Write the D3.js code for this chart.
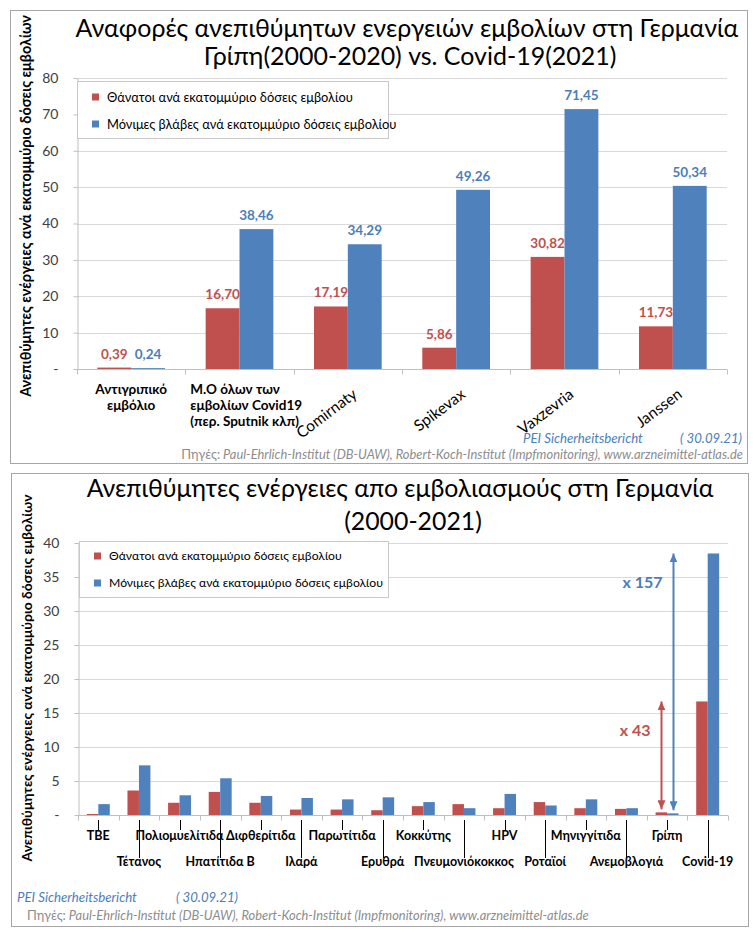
<!doctype html>
<html>
<head>
<meta charset="UTF-8">
<title>Ανεπιθύμητες ενέργειες εμβολίων</title>
<script src="https://cdn.jsdelivr.net/npm/d3@7"></script>
<style>
  body { margin: 0; background: #fff; }
  svg { display: block; }
</style>
</head>
<body>
<svg id="chart" width="755" height="946"></svg>
<script>
// ---- data ----
var seriesNames = ["Θάνατοι ανά εκατομμύριο δόσεις εμβολίου", "Μόνιμες βλάβες ανά εκατομμύριο δόσεις εμβολίου"];
var seriesColors = ["#c0504d", "#4f81bd"];
var labelColors = ["#c0504d", "#4a7ebb"];

var topCategories = [["Αντιγριπικό", "εμβόλιο"], ["M.O όλων των", "εμβολίων Covid19", "(περ. Sputnik κλπ)"],
                     ["Comirnaty"], ["Spikevax"], ["Vaxzevria"], ["Janssen"]];
var topDeaths   = [0.39, 16.70, 17.19, 5.86, 30.82, 11.73];
var topInjuries = [0.24, 38.46, 34.29, 49.26, 71.45, 50.34];
var topTicks    = [0, 10, 20, 30, 40, 50, 60, 70, 80];

var bottomCategories = ["TBE", "Τέτανος", "Πολιομυελίτιδα", "Ηπατίτιδα B", "Διφθερίτιδα", "Ιλαρά", "Παρωτίτιδα", "Ερυθρά",
                        "Κοκκύτης", "Πνευμονιόκοκκος", "HPV", "Ροταϊοί", "Μηνιγγίτιδα", "Ανεμοβλογιά", "Γρίπη", "Covid-19"];
var bottomDeaths   = [0.15, 3.6, 1.8, 3.4, 1.8, 0.8, 0.8, 0.7, 1.3, 1.6, 1.0, 1.9, 1.0, 0.9, 0.39, 16.70];
var bottomInjuries = [1.6, 7.3, 2.9, 5.4, 2.8, 2.5, 2.3, 2.6, 1.9, 1.0, 3.1, 1.4, 2.3, 1.0, 0.24, 38.46];
var bottomTicks    = [0, 5, 10, 15, 20, 25, 30, 35, 40];
var ratioLabels    = ["x 43", "x 157"];

var yTitle = "Ανεπιθύμητες ενέργειες ανά εκατομμύριο δόσεις εμβολίων";
var sourceLabel = "Πηγές:";
var sourceText = " Paul-Ehrlich-Institut (DB-UAW), Robert-Koch-Institut (Impfmonitoring), www.arzneimittel-atlas.de";

var FONT = "Lato, 'Open Sans', sans-serif";
var svg = d3.select("#chart").attr("font-family", FONT);
var fmt = function(v) { return d3.format(".2f")(v).replace(".", ","); };

// scale a text's font so it takes the given width
function fit(sel, w) {
  var fs = parseFloat(sel.attr("font-size"));
  var nfs = fs * w / sel.node().getComputedTextLength();
  sel.attr("font-size", nfs);
  return nfs;
}

// arrow heads
var defs = svg.append("defs");
seriesColors.forEach(function(c, i) {
  defs.append("marker").attr("id", "arr" + i)
    .attr("markerUnits", "userSpaceOnUse")
    .attr("markerWidth", 9).attr("markerHeight", 8)
    .attr("refX", 9).attr("refY", 4)
    .attr("orient", "auto-start-reverse")
    .append("path").attr("d", "M0,0 L9,4 L0,8 z").attr("fill", c);
});

// panels
svg.append("rect").attr("x", 10.5).attr("y", 10.5).attr("width", 737).attr("height", 453)
  .attr("fill", "#fff").attr("stroke", "#a6a6a6");
svg.append("rect").attr("x", 11.5).attr("y", 473.5).attr("width", 737).attr("height", 453)
  .attr("fill", "#fff").attr("stroke", "#a6a6a6");

function barChart(o) {
  var n = o.deaths.length;
  var x0 = d3.scaleBand().domain(d3.range(n)).range([o.left, o.right]);
  var x1 = d3.scaleBand().domain([0, 1]).range([0, x0.bandwidth()]).paddingOuter(o.pad);
  var y = d3.scaleLinear().domain([0, o.ticks[o.ticks.length - 1]]).range([o.bottom, o.top]);
  var g = svg.append("g");

  g.selectAll("line.grid").data(o.ticks.filter(function(d) { return d > 0; })).join("line")
    .attr("class", "grid")
    .attr("x1", o.left).attr("x2", o.right)
    .attr("y1", function(d) { return Math.round(y(d)) + 0.5; })
    .attr("y2", function(d) { return Math.round(y(d)) + 0.5; })
    .attr("stroke", "#d9d9d9");

  var ya = g.append("g").attr("transform", "translate(" + (o.left + 0.5) + ",0)")
    .call(d3.axisLeft(y).tickValues(o.ticks).tickSize(4).tickSizeOuter(0).tickPadding(15)
      .tickFormat(function(d) { return d === 0 ? "-" : d; }));
  ya.select(".domain").attr("stroke", "#bfbfbf");
  ya.selectAll(".tick line").attr("stroke", "#bfbfbf");
  ya.selectAll(".tick text").attr("font-size", 14).attr("fill", "#404040").attr("font-family", FONT);

  var xa = g.append("g").attr("transform", "translate(0," + (Math.round(y(0)) + 0.5) + ")");
  xa.append("line").attr("x1", o.left).attr("x2", o.right).attr("stroke", "#bfbfbf");
  xa.selectAll("line.tk").data(d3.range(n + 1)).join("line").attr("class", "tk")
    .attr("x1", function(i) { return Math.round(i < n ? x0(i) : o.right) + 0.5; })
    .attr("x2", function(i) { return Math.round(i < n ? x0(i) : o.right) + 0.5; })
    .attr("y1", 0).attr("y2", 5).attr("stroke", "#bfbfbf");

  [o.deaths, o.injuries].forEach(function(vals, s) {
    g.append("g").selectAll("rect").data(vals).join("rect")
      .attr("x", function(d, i) { return x0(i) + x1(s); })
      .attr("y", function(d) { return y(d); })
      .attr("width", x1.bandwidth())
      .attr("height", function(d) { return y(0) - y(d); })
      .attr("fill", seriesColors[s]);
  });

  // legend
  var lg = g.append("g");
  lg.append("rect").attr("x", o.legend[0] + 0.5).attr("y", o.legend[1] + 0.5)
    .attr("width", o.legend[2]).attr("height", o.legend[3])
    .attr("fill", "#fff").attr("stroke", "#c8c8c8");
  var lfs = 12;
  seriesNames.forEach(function(name, s) {
    var cy = o.legend[1] + o.legendRows[s];
    lg.append("rect").attr("x", o.legend[0] + 15).attr("y", cy - 3.5).attr("width", 7).attr("height", 7)
      .attr("fill", seriesColors[s]);
    var t = lg.append("text").attr("x", o.legend[0] + 30).attr("y", cy).attr("dy", "0.35em")
      .attr("font-size", lfs).attr("fill", "#000").text(name);
    if (s === 0) lfs = fit(t, o.legendWidth); else t.attr("font-size", lfs);
  });

  // y title
  var yt = g.append("text").attr("transform", "translate(" + o.yTitle[0] + "," + o.yTitle[1] + ") rotate(-90)")
    .attr("text-anchor", "middle").attr("dy", "0.35em").attr("font-weight", "bold")
    .attr("font-size", 14).attr("fill", "#000").text(yTitle);
  fit(yt, o.yTitle[2]);

  // title
  var t1 = g.append("text").attr("x", o.title[0][0]).attr("y", o.title[0][1]).attr("text-anchor", "middle")
    .attr("font-size", 22).attr("fill", "#000").text(o.titleText[0]);
  var tfs = fit(t1, o.title[0][2]);
  g.append("text").attr("x", o.title[1][0]).attr("y", o.title[1][1]).attr("text-anchor", "middle")
    .attr("font-size", tfs).attr("fill", "#000").text(o.titleText[1]);

  // footer
  var p = g.append("text").attr("x", o.pei[0]).attr("y", o.pei[1]).attr("font-style", "italic")
    .attr("font-size", 13).attr("fill", "#4a7ebb").text("PEI Sicherheitsbericht");
  fit(p, 120);
  var d = g.append("text").attr("x", o.pei[2]).attr("y", o.pei[1]).attr("font-style", "italic")
    .attr("font-size", 13).attr("fill", "#4a7ebb").text("( 30.09.21)");
  fit(d, 62);
  var src = g.append("text").attr("x", o.src[0]).attr("y", o.src[1]).attr("text-anchor", o.src[2])
    .attr("font-size", 12).attr("fill", "#8c8c8c");
  src.append("tspan").text(sourceLabel);
  src.append("tspan").attr("font-style", "italic").text(sourceText);
  fit(src, 562);

  return { x0: x0, x1: x1, y: y, g: g };
}

// ---- top chart ----
var topChart = barChart({
  deaths: topDeaths, injuries: topInjuries, ticks: topTicks,
  left: 77, right: 727, bottom: 369, top: 78, pad: 0.6,
  legend: [77, 81, 311, 57], legendRows: [16, 43], legendWidth: 246,
  yTitle: [26, 206, 382],
  title: [[407, 37, 663], [410, 65]],
  titleText: ["Αναφορές ανεπιθύμητων ενεργειών εμβολίων στη Γερμανία", "Γρίπη(2000-2020) vs. Covid-19(2021)"],
  pei: [523, 443, 680], src: [743, 459, "end"]
});

[topDeaths, topInjuries].forEach(function(vals, s) {
  topChart.g.append("g").selectAll("text").data(vals).join("text")
    .attr("x", function(d, i) { return topChart.x0(i) + topChart.x1(s) + topChart.x1.bandwidth() / 2; })
    .attr("y", function(d) { return topChart.y(d) - 9; })
    .attr("text-anchor", "middle").attr("font-weight", "bold").attr("font-size", 13.5)
    .attr("fill", labelColors[s]).text(fmt);
});

topCategories.forEach(function(lines, i) {
  var cx = topChart.x0(i) + topChart.x0.bandwidth() / 2;
  if (lines.length > 1) {
    var t = topChart.g.append("text").attr("font-weight", "bold").attr("font-size", 13.5).attr("fill", "#000");
    var spans = lines.map(function(l, k) {
      return t.append("tspan").attr("x", cx).attr("y", 394 + k * 16).text(l);
    });
    var maxW = d3.max(spans, function(sp) { return sp.node().getComputedTextLength(); });
    var wide = maxW > topChart.x0.bandwidth() * 0.9;
    t.attr("text-anchor", wide ? "start" : "middle");
    t.selectAll("tspan").attr("x", wide ? topChart.x0(i) + 5 : cx);
  } else {
    topChart.g.append("text").attr("transform", "translate(" + (cx + 7) + ",392) rotate(-37)")
      .attr("text-anchor", "end").attr("dy", "0.35em").attr("font-size", 15.5).attr("fill", "#000")
      .text(lines[0]);
  }
});

// ---- bottom chart ----
var botChart = barChart({
  deaths: bottomDeaths, injuries: bottomInjuries, ticks: bottomTicks,
  left: 78, right: 728, bottom: 815, top: 543, pad: 0.77,
  legend: [79, 541, 309, 56], legendRows: [15, 42], legendWidth: 233,
  yTitle: [27, 678, 367],
  title: [[400, 497, 627], [413, 530]],
  titleText: ["Ανεπιθύμητες ενέργειες απο εμβολιασμούς στη Γερμανία", "(2000-2021)"],
  pei: [17, 902, 176], src: [27, 920, "start"]
});

bottomCategories.forEach(function(name, i) {
  var cx = botChart.x0(i) + botChart.x0.bandwidth() / 2;
  var low = i % 2 === 1;
  botChart.g.append("line").attr("x1", Math.round(cx) + 0.5).attr("x2", Math.round(cx) + 0.5)
    .attr("y1", 820).attr("y2", low ? 858 : 830).attr("stroke", "#000");
  botChart.g.append("text").attr("x", cx).attr("y", low ? 866 : 840).attr("text-anchor", "middle")
    .attr("font-weight", "bold").attr("font-size", 12.5).attr("fill", "#000").text(name);
});

// ratio arrows: Covid-19 vs Γρίπη
var fluIdx = bottomCategories.indexOf("Γρίπη"), covIdx = bottomCategories.indexOf("Covid-19");
[bottomDeaths, bottomInjuries].forEach(function(vals, s) {
  var ax = Math.round(botChart.x0(fluIdx) + botChart.x1(s) + botChart.x1.bandwidth() / 2) + 0.5;
  var yTop = botChart.y(vals[covIdx]), yLow = botChart.y(vals[fluIdx]) - 3;
  botChart.g.append("line").attr("x1", ax).attr("x2", ax).attr("y1", yLow).attr("y2", yTop)
    .attr("stroke", seriesColors[s]).attr("stroke-width", 2)
    .attr("marker-start", "url(#arr" + s + ")").attr("marker-end", "url(#arr" + s + ")");
  botChart.g.append("text").attr("x", ax - 11).attr("y", yTop + 29).attr("dy", "0.35em")
    .attr("text-anchor", "end").attr("font-weight", "bold").attr("font-size", 16)
    .attr("fill", labelColors[s]).text(ratioLabels[s]);
});
</script>
</body>
</html>
